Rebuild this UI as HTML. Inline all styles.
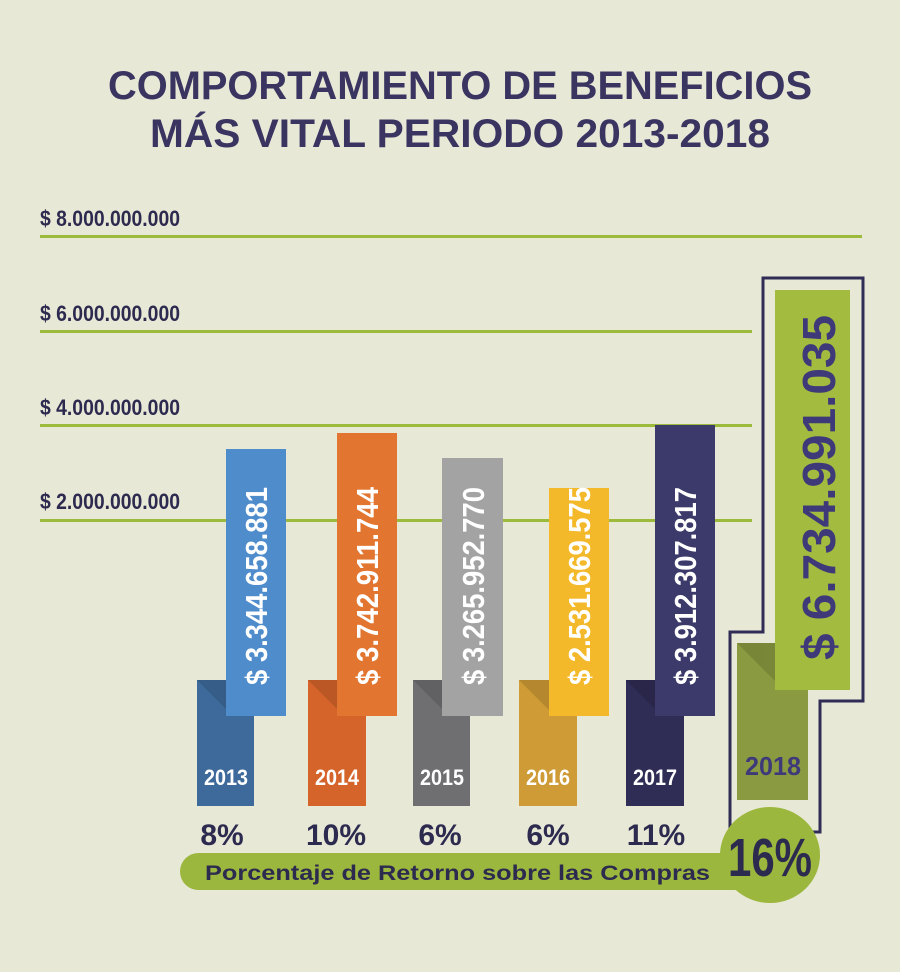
<!DOCTYPE html>
<html><head><meta charset="utf-8"><style>
html,body{margin:0;padding:0;background:#e8e8d6;}
svg{display:block}
text{font-family:"Liberation Sans Narrow","Liberation Sans",sans-serif;font-weight:bold}
</style></head><body>
<svg width="900" height="972" viewBox="0 0 900 972" xmlns="http://www.w3.org/2000/svg">
<rect width="900" height="972" fill="#e8e8d6"/>
<text x="460" y="99" text-anchor="middle" font-size="40" fill="#3a3461" textLength="704" lengthAdjust="spacingAndGlyphs" style="font-family:'Liberation Sans',sans-serif">COMPORTAMIENTO DE BENEFICIOS</text>
<text x="460" y="147" text-anchor="middle" font-size="40" fill="#3a3461" textLength="620" lengthAdjust="spacingAndGlyphs" style="font-family:'Liberation Sans',sans-serif">MÁS VITAL PERIODO 2013-2018</text>
<g fill="#9cba3c">
<rect x="40" y="235" width="822" height="3"/>
<rect x="40" y="330" width="712" height="3"/>
<rect x="40" y="424" width="712" height="3"/>
<rect x="40" y="519" width="712" height="3"/>
</g>
<g font-size="22" fill="#2d2a4f">
<text x="40" y="226" textLength="140" lengthAdjust="spacingAndGlyphs">$ 8.000.000.000</text>
<text x="40" y="321" textLength="140" lengthAdjust="spacingAndGlyphs">$ 6.000.000.000</text>
<text x="40" y="415" textLength="140" lengthAdjust="spacingAndGlyphs">$ 4.000.000.000</text>
<text x="40" y="509" textLength="140" lengthAdjust="spacingAndGlyphs">$ 2.000.000.000</text>
</g>
<path d="M763 278 H863 V701 H820 V832 H730 V632 H763 Z" fill="none" stroke="#2f2c55" stroke-width="3"/>
<rect x="197" y="680" width="57" height="126" fill="#3d6a9b"/>
<rect x="308" y="680" width="58" height="126" fill="#d5642b"/>
<rect x="413" y="680" width="57" height="126" fill="#6f6e71"/>
<rect x="519" y="680" width="58" height="126" fill="#cf9b36"/>
<rect x="626" y="680" width="58" height="126" fill="#2f2c55"/>
<rect x="737" y="643" width="71" height="157" fill="#8a9a40"/>
<g fill="#000" opacity="0.12">
<path d="M197 680 H226 V709 Z"/><path d="M308 680 H337 V709 Z"/><path d="M413 680 H442 V709 Z"/><path d="M519 680 H549 V710 Z"/><path d="M626 680 H655 V709 Z"/><path d="M737 643 H775 V681 Z"/>
</g>
<rect x="226" y="449" width="60" height="267" fill="#4f8ccc"/>
<rect x="337" y="433" width="60" height="283" fill="#e2752f"/>
<rect x="442" y="458" width="61" height="258" fill="#a3a3a3"/>
<rect x="549" y="488" width="60" height="228" fill="#f4b92a"/>
<rect x="655" y="425" width="60" height="291" fill="#3b3a6a"/>
<rect x="775" y="290" width="75" height="400" fill="#a3bb3e"/>
<g font-size="31" fill="#fff">
<text transform="translate(267,685) rotate(-90)" textLength="198" lengthAdjust="spacingAndGlyphs">$ 3.344.658.881</text>
<text transform="translate(378,685) rotate(-90)" textLength="198" lengthAdjust="spacingAndGlyphs">$ 3.742.911.744</text>
<text transform="translate(484,685) rotate(-90)" textLength="198" lengthAdjust="spacingAndGlyphs">$ 3.265.952.770</text>
<text transform="translate(590,685) rotate(-90)" textLength="198" lengthAdjust="spacingAndGlyphs">$ 2.531.669.575</text>
<text transform="translate(696,685) rotate(-90)" textLength="198" lengthAdjust="spacingAndGlyphs">$ 3.912.307.817</text>
</g>
<text transform="translate(835,660) rotate(-90)" font-size="46" fill="#3e3a7a" textLength="345" lengthAdjust="spacingAndGlyphs">$ 6.734.991.035</text>
<g font-size="22" fill="#fff" text-anchor="middle">
<text x="226" y="785" textLength="44" lengthAdjust="spacingAndGlyphs">2013</text>
<text x="337" y="785" textLength="44" lengthAdjust="spacingAndGlyphs">2014</text>
<text x="442" y="785" textLength="44" lengthAdjust="spacingAndGlyphs">2015</text>
<text x="548" y="785" textLength="44" lengthAdjust="spacingAndGlyphs">2016</text>
<text x="655" y="785" textLength="44" lengthAdjust="spacingAndGlyphs">2017</text>
<text x="773" y="775" fill="#3e3a7a" font-size="26" textLength="56" lengthAdjust="spacingAndGlyphs">2018</text>
</g>
<g font-size="30" fill="#2d2a4f" text-anchor="middle">
<text x="222" y="845">8%</text>
<text x="336" y="845">10%</text>
<text x="440" y="845">6%</text>
<text x="548" y="845">6%</text>
<text x="656" y="845">11%</text>
</g>
<rect x="180" y="853" width="590" height="37" rx="18.5" fill="#9cb73d"/>
<ellipse cx="770" cy="855" rx="50" ry="48" fill="#9cb73d"/>
<text x="205" y="880" font-size="21" fill="#2d2a4f" textLength="505" lengthAdjust="spacingAndGlyphs" style="font-family:'Liberation Sans',sans-serif">Porcentaje de Retorno sobre las Compras</text>
<text x="770" y="876" text-anchor="middle" font-size="54" fill="#2d2a4f" textLength="84" lengthAdjust="spacingAndGlyphs">16%</text>
</svg>
</body></html>
